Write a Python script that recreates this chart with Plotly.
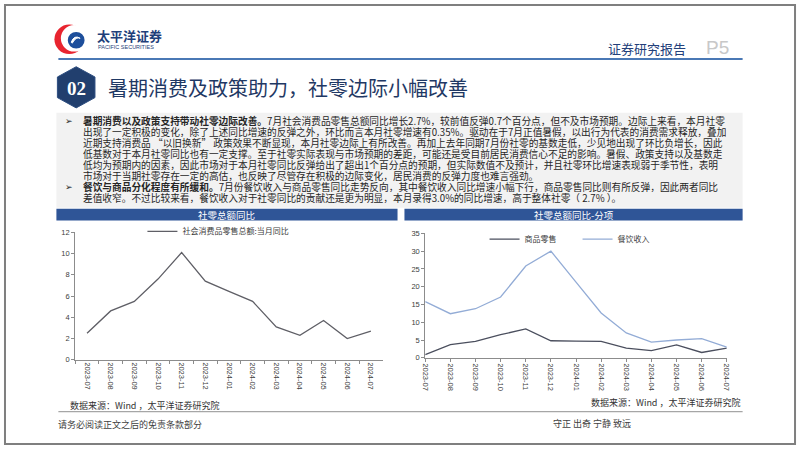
import plotly.graph_objects as go

W, H = 802, 451

# ---------------- data ----------------
months = ["2023-07", "2023-08", "2023-09", "2023-10", "2023-11", "2023-12", "2024-01",
          "2024-02", "2024-03", "2024-04", "2024-05", "2024-06", "2024-07"]
retail_total = [2.5, 4.6, 5.5, 7.6, 10.1, 7.4, 6.45, 5.5, 3.1, 2.3, 3.7, 2.0, 2.7]
goods_retail = [0.9, 3.7, 4.6, 6.5, 8.1, 4.8, 4.7, 4.6, 2.7, 2.0, 3.6, 1.5, 2.7]
catering = [15.8, 12.4, 13.8, 17.1, 25.8, 30.0, 21.3, 12.6, 7.0, 4.4, 5.0, 5.4, 3.0]

left_y_ticks = [0, 2, 4, 6, 8, 10, 12]
right_y_ticks = [0, 5, 10, 15, 20, 25, 30, 35]

name_total = "社会消费品零售总额:当月同比"
name_goods = "商品零售"
name_cater = "餐饮收入"

title_main = "暑期消费及政策助力，社零边际小幅改善"
left_title = "社零总额同比"
right_title = "社零总额同比-分项"
source_text = "数据来源：Wind ，太平洋证券研究院"

body_lines = [
    ("➢", "<b>暑期消费以及政策支持带动社零边际改善。</b>7月社会消费品零售总额同比增长2.7%，较前值反弹0.7个百分点，但不及市场预期。边际上来看，本月社零"),
    ("", "出现了一定积极的变化，除了上述同比增速的反弹之外，环比而言本月社零增速有0.35%。驱动在于7月正值暑假，以出行为代表的消费需求释放，叠加"),
    ("", "近期支持消费品 “以旧换新” 政策效果不断显现，本月社零边际上有所改善。再加上去年同期7月份社零的基数走低，少见地出现了环比负增长，因此"),
    ("", "低基数对于本月社零同比也有一定支撑。至于社零实际表现与市场预期的差距，可能还是受目前居民消费信心不足的影响。暑假、政策支持以及基数走"),
    ("", "低均为预期内的因素，因此市场对于本月社零同比反弹给出了超出1个百分点的预期，但实际数值不及预计，并且社零环比增速表现弱于季节性，表明"),
    ("", "市场对于当期社零存在一定的高估，也反映了尽管存在积极的边际变化，居民消费的反弹力度也难言强劲。"),
    ("➢", "<b>餐饮与商品分化程度有所缓和。</b>7月份餐饮收入与商品零售同比走势反向，其中餐饮收入同比增速小幅下行，商品零售同比则有所反弹，因此两者同比"),
    ("", "差值收窄。不过比较来看，餐饮收入对于社零同比的贡献还是更为明显，本月录得3.0%的同比增速，高于整体社零（ 2.7% ）。"),
]

CJK = "Noto Sans CJK SC"


def px(x):
    return x / W


def py(y):
    return 1 - y / H


fig = go.Figure()

fig.add_trace(go.Scatter(x=months, y=retail_total, mode="lines", name=name_total,
                         line=dict(color="#5f5f66", width=1.3),
                         xaxis="x", yaxis="y", legend="legend"))
fig.add_trace(go.Scatter(x=months, y=goods_retail, mode="lines", name=name_goods,
                         line=dict(color="#4b4f5e", width=1.3),
                         xaxis="x2", yaxis="y2", legend="legend2"))
fig.add_trace(go.Scatter(x=months, y=catering, mode="lines", name=name_cater,
                         line=dict(color="#93acd6", width=1.3),
                         xaxis="x2", yaxis="y2", legend="legend2"))

axis_common = dict(showline=True, linecolor="#8c8c8c", linewidth=1, ticks="outside",
                   ticklen=3, tickcolor="#8c8c8c", showgrid=False, zeroline=False,
                   tickfont=dict(family="Arial", size=7.5, color="#404040"))

shapes = []
annotations = []

# outer frame
shapes.append(dict(type="rect", xref="paper", yref="paper", x0=px(1), x1=px(800), y0=py(1), y1=py(449),
                   line=dict(color="#7f7f7f", width=2), fillcolor="rgba(0,0,0,0)", layer="below"))
# header blue line
shapes.append(dict(type="line", xref="paper", yref="paper", x0=px(55), x1=px(747), y0=py(56), y1=py(56),
                   line=dict(color="#4a78b5", width=2)))

# logo: red crescent + blue disc
def circle(cx, cy, r, color):
    return dict(type="circle", xref="paper", yref="paper", x0=px(cx - r), x1=px(cx + r),
                y0=py(cy + r), y1=py(cy - r), fillcolor=color, line=dict(width=0))

shapes.append(circle(66, 36, 15, "#e8242f"))
shapes.append(circle(71, 35, 13.5, "white"))
shapes.append(circle(73, 37, 8.5, "#1d4e9b"))
shapes.append(dict(type="path", xref="paper", yref="paper",
                   path=f"M {px(68)},{py(39)} Q {px(71)},{py(31)} {px(77)},{py(35)} Q {px(73)},{py(33)} {px(69)},{py(40)} Z",
                   fillcolor="white", line=dict(color="white", width=1)))
annotations.append(dict(x=px(92), y=py(32), xref="paper", yref="paper", xanchor="left", yanchor="middle",
                        text="<b>太平洋证券</b>", showarrow=False,
                        font=dict(family=CJK, size=13, color="#1f3f7a")))
annotations.append(dict(x=px(93), y=py(44), xref="paper", yref="paper", xanchor="left", yanchor="middle",
                        text="PACIFIC SECURITIES", showarrow=False,
                        font=dict(family="Arial", size=5.5, color="#1f3f7a")))

annotations.append(dict(x=px(650), y=py(45), xref="paper", yref="paper", xanchor="center", yanchor="middle",
                        text="证券研究报告", showarrow=False,
                        font=dict(family=CJK, size=13, color="#23407a")))
annotations.append(dict(x=px(722), y=py(44), xref="paper", yref="paper", xanchor="center", yanchor="middle",
                        text="P5", showarrow=False,
                        font=dict(family="Arial", size=19, color="#c8c8c8")))

# hexagon with "02"
cx, cy, hw, hh = 73, 85, 19, 21
hexpts = [(cx, cy - hh), (cx + hw, cy - hh / 2), (cx + hw, cy + hh / 2), (cx, cy + hh),
          (cx - hw, cy + hh / 2), (cx - hw, cy - hh / 2)]
path = "M " + " L ".join(f"{px(a)},{py(b)}" for a, b in hexpts) + " Z"
shapes.append(dict(type="path", xref="paper", yref="paper", path=path,
                   fillcolor="#213f6e", line=dict(color="#2c4d80", width=1)))
annotations.append(dict(x=px(cx), y=py(cy + 1), xref="paper", yref="paper", xanchor="center", yanchor="middle",
                        text="<b>02</b>", showarrow=False,
                        font=dict(family="Liberation Serif", size=19, color="white")))
annotations.append(dict(x=px(103), y=py(85), xref="paper", yref="paper", xanchor="left", yanchor="middle",
                        text=title_main, showarrow=False,
                        font=dict(family=CJK, size=20, color="#1f3864")))

# body text box
shapes.append(dict(type="rect", xref="paper", yref="paper", x0=px(53), x1=px(747), y0=py(208), y1=py(111),
                   fillcolor="#f2f2f2", line=dict(width=0), layer="below"))
line_y0, line_dy = 118.5, 11.3
for i, (bullet, txt) in enumerate(body_lines):
    yy = line_y0 + i * line_dy
    if bullet:
        annotations.append(dict(x=px(61), y=py(yy), xref="paper", yref="paper", xanchor="left",
                                yanchor="middle", text=bullet, showarrow=False, height=11, borderpad=0,
                                font=dict(family="DejaVu Sans", size=9, color="#262626")))
    annotations.append(dict(x=px(79), y=py(yy), xref="paper", yref="paper", xanchor="left", yanchor="middle",
                            text=txt, showarrow=False, height=11, borderpad=0, valign="middle",
                            font=dict(family=CJK, size=9.7, color="#262626")))

# chart title bars
for (x0, x1, t) in [(53, 398, left_title), (405, 747, right_title)]:
    shapes.append(dict(type="rect", xref="paper", yref="paper", x0=px(x0), x1=px(x1), y0=py(221), y1=py(209),
                       fillcolor="#2f5597", line=dict(width=0)))
    annotations.append(dict(x=px((x0 + x1) / 2), y=py(215), xref="paper", yref="paper", xanchor="center",
                            yanchor="middle", text=t, showarrow=False,
                            font=dict(family=CJK, size=9.5, color="white")))

# source texts and separator line
annotations.append(dict(x=px(65), y=py(410), xref="paper", yref="paper", xanchor="left", yanchor="middle",
                        text=source_text, showarrow=False, font=dict(family=CJK, size=9, color="#333333")))
annotations.append(dict(x=px(746), y=py(407), xref="paper", yref="paper", xanchor="right", yanchor="middle",
                        text=source_text, showarrow=False, font=dict(family=CJK, size=9, color="#333333")))
shapes.append(dict(type="line", xref="paper", yref="paper", x0=px(55), x1=px(747), y0=py(416), y1=py(416),
                   line=dict(color="#a6a6a6", width=1.2)))

# footer
annotations.append(dict(x=px(53), y=py(429), xref="paper", yref="paper", xanchor="left", yanchor="middle",
                        text="请务必阅读正文之后的免责条款部分", showarrow=False,
                        font=dict(family=CJK, size=9, color="#404040")))
annotations.append(dict(x=px(595), y=py(428), xref="paper", yref="paper", xanchor="center", yanchor="middle",
                        text="守正 出奇 宁静 致远", showarrow=False,
                        font=dict(family=CJK, size=9, color="#404040")))

fig.update_layout(
    width=W, height=H,
    margin=dict(l=0, r=0, t=0, b=0),
    paper_bgcolor="white", plot_bgcolor="white",
    xaxis=dict(domain=[px(72), px(383)], anchor="y", type="category", range=[-0.5, 12.5],
               tickangle=90, tickson="boundaries", **axis_common),
    yaxis=dict(domain=[py(363), py(233)], anchor="x", range=[0, 12], tickvals=left_y_ticks, **axis_common),
    xaxis2=dict(domain=[px(426), px(731)], anchor="y2", type="category", range=[0, 12],
                tickangle=90, **axis_common),
    yaxis2=dict(domain=[py(361), py(234)], anchor="x2", range=[0, 35], tickvals=right_y_ticks, **axis_common),
    legend=dict(x=px(140), y=py(232), xanchor="left", yanchor="middle", orientation="h",
                bgcolor="rgba(0,0,0,0)", font=dict(family=CJK, size=8, color="#404040")),
    legend2=dict(x=px(486), y=py(240), xanchor="left", yanchor="middle", orientation="h",
                 entrywidth=48, entrywidthmode="pixels",
                 bgcolor="rgba(0,0,0,0)", font=dict(family=CJK, size=8, color="#404040")),
    shapes=shapes,
    annotations=annotations,
    showlegend=True,
)

fig.write_html("out.html")
